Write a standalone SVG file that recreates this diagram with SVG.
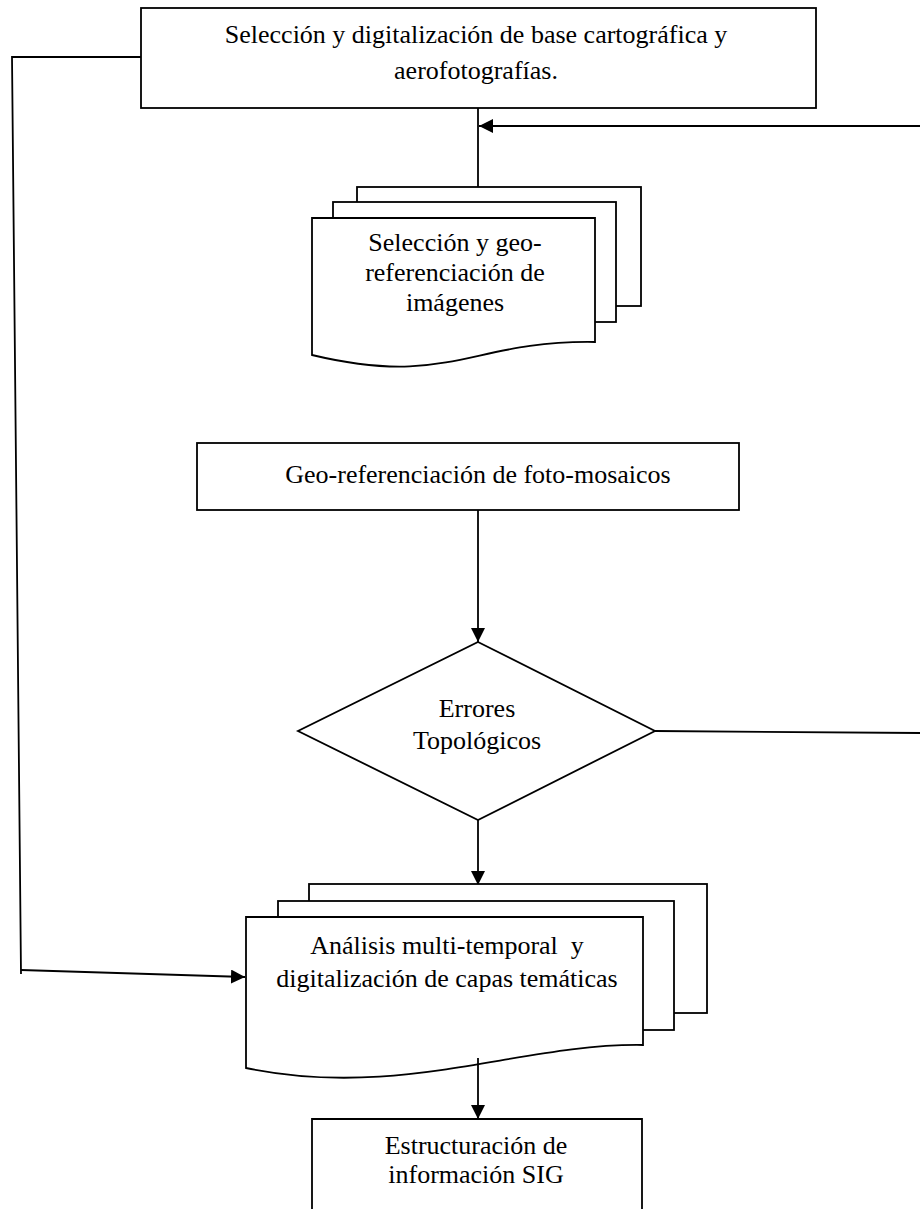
<svg xmlns="http://www.w3.org/2000/svg" width="920" height="1209" viewBox="0 0 920 1209">
<defs>
<style>
.s{fill:#fff;stroke:#000;stroke-width:1.8}
.c{fill:none;stroke:#000;stroke-width:1.8}
.t{font-family:"Liberation Serif","Times New Roman",serif;font-size:26px;fill:#000;text-anchor:middle}
</style>
<marker id="ah" markerUnits="userSpaceOnUse" markerWidth="16" markerHeight="14" refX="14" refY="7" orient="auto">
<path d="M0,0 L14,7 L0,14 Z" fill="#000"/>
</marker>
</defs>
<rect width="920" height="1209" fill="#fff"/>
<g id="connectors">
<polyline class="c" points="141,57 12,57 21,974" />
<line class="c" x1="21" y1="970" x2="245" y2="977" marker-end="url(#ah)"/>
<line class="c" x1="478" y1="108" x2="478" y2="187"/>
<line class="c" x1="920" y1="126" x2="479" y2="126" marker-end="url(#ah)"/>
<line class="c" x1="478" y1="510" x2="478" y2="642" marker-end="url(#ah)"/>
<line class="c" x1="655" y1="731" x2="920" y2="733"/>
<line class="c" x1="478" y1="820" x2="478" y2="885" marker-end="url(#ah)"/>
</g>
<g id="n1">
<rect class="s" x="141" y="8" width="675" height="100"/>
<text class="t" x="476" y="43">Selección y digitalización de base cartográfica y</text>
<text class="t" x="476" y="79">aerofotografías.</text>
</g>
<g id="n2">
<rect class="s" x="357" y="187" width="284" height="119"/>
<rect class="s" x="333" y="202" width="283" height="120"/>
<path class="s" d="M312,218 H595 V342 C470,340 450,388 312,355 Z"/>
<text class="t" x="455" y="251">Selección y geo-</text>
<text class="t" x="455" y="281">referenciación de</text>
<text class="t" x="455" y="311">imágenes</text>
</g>
<g id="n3">
<rect class="s" x="197" y="443" width="542" height="67"/>
<text class="t" x="478" y="483">Geo-referenciación de foto-mosaicos</text>
</g>
<g id="n4">
<path class="s" d="M478,642 L655,731 L478,820 L298,731 Z"/>
<text class="t" x="477" y="717">Errores</text>
<text class="t" x="477" y="749">Topológicos</text>
</g>
<g id="n5">
<rect class="s" x="309" y="884" width="398" height="129"/>
<rect class="s" x="278" y="901" width="396" height="129"/>
<path class="s" d="M246,917 H643 V1045 C520,1043 400,1100 246,1068 Z"/>
<text class="t" x="447" y="954" xml:space="preserve">Análisis multi-temporal  y</text>
<text class="t" x="447" y="987">digitalización de capas temáticas</text>
</g>
<g id="n6">
<path class="s" d="M312,1215 V1119 H642 V1215"/>
<text class="t" x="476" y="1154">Estructuración de</text>
<text class="t" x="476" y="1183">información SIG</text>
</g>
<g id="connectors2">
<line class="c" x1="478" y1="1058" x2="478" y2="1119" marker-end="url(#ah)"/>
</g>
</svg>
